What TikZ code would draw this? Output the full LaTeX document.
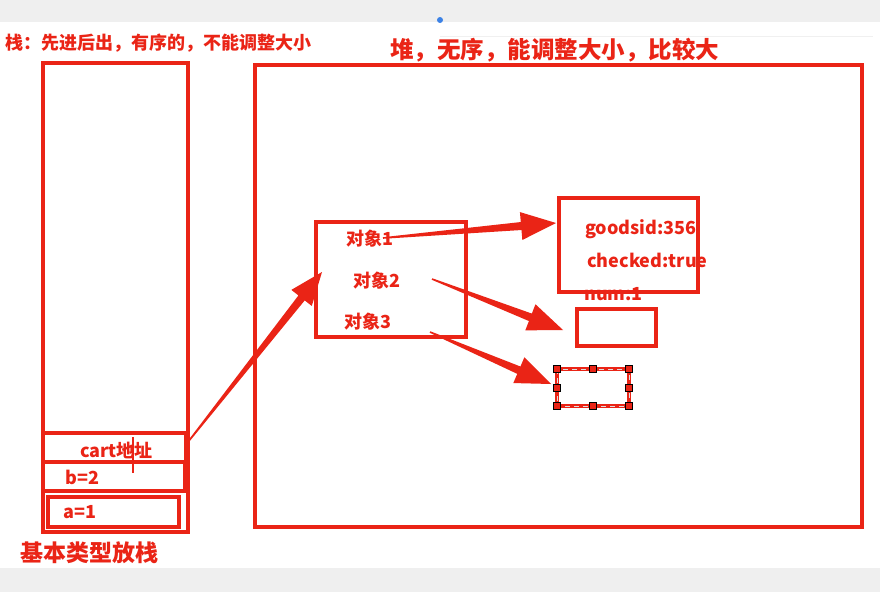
\documentclass[tikz,border=0pt]{standalone}
\usepackage{fontspec}
\setmainfont{Noto Sans CJK SC}
\usetikzlibrary{calc}
\definecolor{rd}{RGB}{234,36,22}
\definecolor{bandgray}{RGB}{239,239,239}
\definecolor{faint}{RGB}{240,240,240}
\definecolor{dotblue}{RGB}{60,130,230}
\newcommand\fatarrow[5]{%
  \coordinate (fa-h) at ($(#2)!#3!(#1)$);
  \fill[rd] ($(#1)!0.8pt!90:(#2)$) -- ($(fa-h)!#5!90:(#2)$) -- ($(fa-h)!#4!90:(#2)$) -- (#2)
    -- ($(fa-h)!#4!-90:(#2)$) -- ($(fa-h)!#5!-90:(#2)$) -- ($(#1)!0.8pt!-90:(#2)$) -- cycle;}
\tikzset{
  rbox/.style={draw=rd, line width=3.4pt, inner sep=0pt, outer sep=0pt},
  lbl/.style={text=rd, inner sep=0pt, font=\bfseries\fontsize{18}{18}\selectfont},
  handle/.style={draw=black, fill=rd, line width=0.6pt, minimum size=7pt, inner sep=0pt}
}
\begin{document}
\begin{tikzpicture}[x=1pt,y=-1pt]
\useasboundingbox (0,0) rectangle (880,592);
\fill[white] (0,0) rectangle (880,592);
\fill[bandgray] (0,0) rectangle (880,22);
\fill[bandgray] (0,568) rectangle (880,592);
\draw[faint, line width=1pt] (440,36) -- (873,36);
\fill[dotblue] (440,20) circle (3pt);

% titles
\node[lbl, anchor=west, font=\bfseries\fontsize{18}{18}\selectfont] (t1) at (5,43) {栈：先进后出，有序的，不能调整大小};
\node[lbl, anchor=west, font=\bfseries\fontsize{23.5}{23.5}\selectfont] (t2) at (390,50) {堆，无序，能调整大小，比较大};
\node[lbl, anchor=west, font=\bfseries\fontsize{23}{23}\selectfont] (t3) at (20,553) {基本类型放栈};

% stack
\node[rbox, minimum width=145pt, minimum height=469pt] (stack) at (115.5,297.5) {};
\node[rbox, minimum width=143pt, minimum height=29pt] (cartbox) at (114.5,447.5) {};
\node[rbox, minimum width=142pt, minimum height=29pt] (bbox) at (114,476.5) {};
\node[rbox, line width=3.8pt, minimum width=131pt, minimum height=30pt] (abox) at (113.5,512) {};
\node[lbl] (cart) at (116.5,450) {cart地址};
\node[lbl, anchor=west] (b) at (65,477) {b=2};
\node[lbl, anchor=west] (a) at (63,512) {a=1};
\draw[rd, line width=1.5pt] (133,437) -- (133,473);

% heap
\node[rbox, line width=3.8pt, minimum width=607pt, minimum height=462pt] (heap) at (558.5,296) {};
\node[rbox, minimum width=150pt, minimum height=115pt] (obj) at (391,279.5) {};
\node[lbl] (o1) at (370,239) {对象1};
\node[lbl] (o2) at (377,281) {对象2};
\node[lbl] (o3) at (368,322) {对象3};

\node[lbl, anchor=west] (num) at (584,294) {num:1};
\node[rbox, minimum width=139pt, minimum height=94pt] (goods) at (628.5,245) {};
\node[lbl, anchor=west] (gid) at (585,229) {goodsid:356};
\node[lbl, anchor=west] (chk) at (587,260) {checked:true};

\node[rbox, minimum width=79pt, minimum height=37pt] (small) at (616.5,327.5) {};
\node[rbox, minimum width=72pt, minimum height=37pt] (dash) at (593,387.5) {};
\draw[white!75!gray, line width=0.8pt, dash pattern=on 5pt off 4pt] (dash.north west) rectangle (dash.south east);
\foreach \p in {north west,north,north east,west,east,south west,south,south east}
  \node[handle] at (dash.\p) {};

% arrows
\coordinate (a1s) at (383,238); \coordinate (a1e) at (556,223);
\coordinate (a2s) at (432,279); \coordinate (a2e) at (563,330);
\coordinate (a3s) at (430,332); \coordinate (a3e) at (551,384);
\coordinate (a4s) at (188,442); \coordinate (a4e) at (322,272);
\fatarrow{a1s}{a1e}{35pt}{14pt}{4pt}
\fatarrow{a2s}{a2e}{35pt}{14pt}{4pt}
\fatarrow{a3s}{a3e}{35pt}{14pt}{4pt}
\fatarrow{a4s}{a4e}{33pt}{13pt}{4pt}
\end{tikzpicture}
\end{document}
